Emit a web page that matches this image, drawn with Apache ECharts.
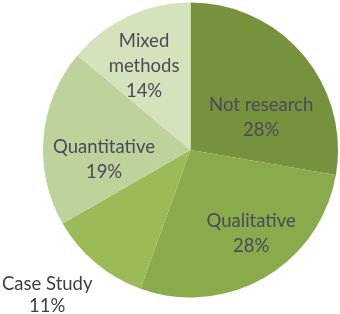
<!DOCTYPE html>
<html>
<head>
<meta charset="utf-8">
<script src="https://cdn.jsdelivr.net/npm/echarts@6/dist/echarts.min.js"></script>
<style>
  html, body { margin: 0; padding: 0; background: #fff; }
  #chart { width: 340px; height: 314px; }
</style>
</head>
<body>
<div id="chart"></div>
<script>
// research type shares, clockwise from 12 o'clock
const categories = ['Not research', 'Qualitative', 'Case Study', 'Quantitative', 'Mixed\nmethods']
const values = [27.7, 27.8, 11.2, 19.4, 13.9]
const colors = ['#76923c', '#8aab4b', '#9bbb59', '#bdd39b', '#d5e3bd']
// nudges so the labels land where excel put them
const labelShift = [[12, 17], [22, 17], [-94, 86], [-10, 16], [-14, -14]]

const chart = echarts.init(document.getElementById('chart'))

const data = categories.map((name, i) => {
  const item = { name: name, value: values[i], itemStyle: { color: colors[i] } }
  if (name === 'Case Study') {
    item.label = { color: '#404040', lineHeight: 22 }
  }
  return item
})

const option = {
  animation: false,
  series: [{
    type: 'pie',
    center: [190.5, 150],
    radius: 147.5,
    startAngle: 90,
    clockwise: true,
    data: data,
    label: {
      show: true,
      position: 'inside',
      fontFamily: 'Lato',
      fontSize: 18.5,
      lineHeight: 25,
      color: '#4a4a5a',
      overflow: 'none',
      formatter: (p) => p.name + '\n' + Math.round(p.percent) + '%'
    },
    labelLayout: (p) => ({ dx: labelShift[p.dataIndex][0], dy: labelShift[p.dataIndex][1] }),
    labelLine: { show: false },
    itemStyle: { borderWidth: 0 },
    emphasis: { disabled: true }
  }]
}

chart.setOption(option)
</script>
</body>
</html>
